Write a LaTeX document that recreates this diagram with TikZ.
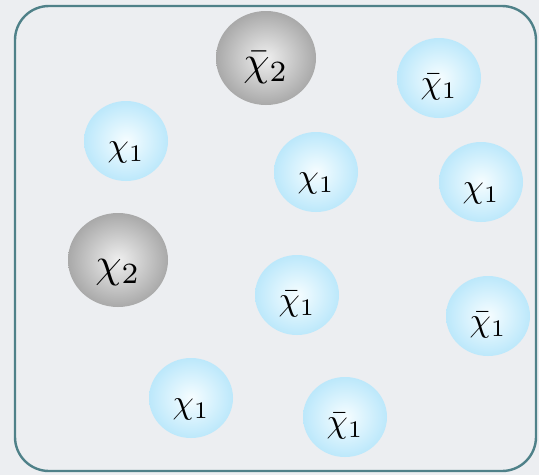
\documentclass[tikz,border=0pt]{standalone}
\usepackage{tikz}
\usetikzlibrary{shapes.geometric}
\definecolor{bgc}{HTML}{ECEEF1}
\definecolor{framec}{HTML}{4F8189}
\definecolor{cyanedge}{HTML}{BCE8FB}
\definecolor{cyaninner}{HTML}{F6FDFF}
\definecolor{greyedge}{HTML}{A9A9A9}
\definecolor{greyinner}{HTML}{EFEFEF}
\newcommand{\balltxt}[1]{\raisebox{-15pt}[0pt][0pt]{\scalebox{3.4}{$#1$}}}
\newcommand{\greytxt}[1]{\raisebox{-17pt}[0pt][0pt]{\scalebox{4.2}{$#1$}}}
\tikzset{
  ball/.style={ellipse, inner sep=0pt, minimum width=84pt, minimum height=80pt,
    inner color=cyaninner, outer color=cyanedge},
  greyball/.style={ellipse, inner sep=0pt, minimum width=100pt, minimum height=94pt,
    inner color=greyinner, outer color=greyedge},
  frame/.style={draw=framec, line width=2.4pt, rounded corners=34pt}
}
\begin{document}
\begin{tikzpicture}[x=1pt,y=-1pt]
\useasboundingbox (0,0) rectangle (539,475);
\fill[bgc] (0,0) rectangle (539,475);
\draw[frame] (15,6) rectangle (536,471);
\node[greyball] (g1) at (266,58) {\greytxt{\bar\chi_2}};
\node[greyball] (g2) at (118,260) {\greytxt{\chi_2}};
\node[ball] (a1) at (439,78) {\balltxt{\bar\chi_1}};
\node[ball] (a2) at (126,141) {\balltxt{\chi_1}};
\node[ball] (a3) at (316,172) {\balltxt{\chi_1}};
\node[ball] (a4) at (481,182) {\balltxt{\chi_1}};
\node[ball] (a5) at (297,295) {\balltxt{\bar\chi_1}};
\node[ball] (a6) at (488,316) {\balltxt{\bar\chi_1}};
\node[ball] (a7) at (191,398) {\balltxt{\chi_1}};
\node[ball] (a8) at (345,417) {\balltxt{\bar\chi_1}};
\end{tikzpicture}
\end{document}
